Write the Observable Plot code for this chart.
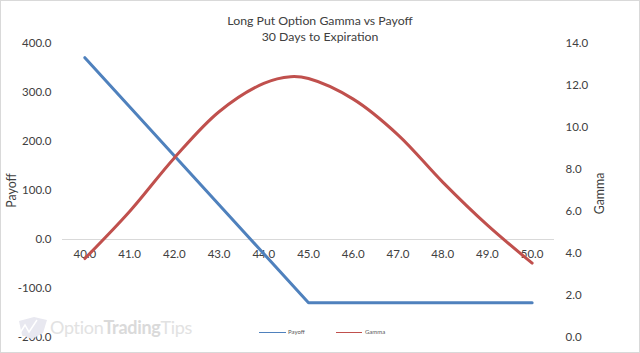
<!DOCTYPE html>
<html>
<head>
<meta charset="utf-8">
<script src="https://cdn.jsdelivr.net/npm/d3@7"></script>
<script src="https://cdn.jsdelivr.net/npm/@observablehq/plot@0.6"></script>
<style>
html,body{margin:0;padding:0;background:#fff}
#chart{position:relative;width:640px;height:353px;overflow:hidden;font-family:Lato,sans-serif;color:#404040}
#chart svg.plot{position:absolute;left:0;top:0}
#frame{position:absolute;left:0;top:0;width:638px;height:351px;border:1px solid #d9d9d9}
#title{position:absolute;left:0;width:640px;top:13px;text-align:center;font-size:12.3px;line-height:15.5px;color:#404040}
.lg{position:absolute;top:329px;font-size:6px;line-height:6px;color:#595959}
.sw{position:absolute;top:331.5px;height:1.5px}
#wm{position:absolute;left:50px;top:313px;font-family:Lato,sans-serif;font-size:18px;line-height:28px;letter-spacing:-.3px;color:#e2e2e2;white-space:nowrap}
#wm b{font-weight:700;color:#dadada}
#logo{position:absolute;left:18px;top:316px}
</style>
</head>
<body>
<div id="chart">
  <svg id="logo" width="30" height="24" viewBox="0 0 30 24"><path d="M1 5 L16 1 L29 4 L25 17 L14 23 L4 19 Z" fill="#e8e8f0"/><path d="M2 17 L7 9 L11 16 L19 4" fill="none" stroke="#fff" stroke-width="1.5"/></svg>
  <div id="wm">Option<b>Trading</b>Tips</div>
  <div id="title">Long Put Option Gamma vs Payoff<br>30 Days to Expiration</div>
  <div class="sw" style="left:259px;width:27px;background:#4F81BD"></div>
  <div class="lg" style="left:288px">Payoff</div>
  <div class="sw" style="left:336px;width:26px;background:#C0504D"></div>
  <div class="lg" style="left:365px">Gamma</div>
  <div id="frame"></div>
</div>
<script>
const strikes = [40,41,42,43,44,45,46,47,48,49,50];
const payoffValues = [371,271,171,71,-29,-129,-129,-129,-129,-129,-129];
const gammaStrikes = [40,41,42,43,44,44.6,45,46,47,48,49,50];
const gammaValues = [3.76,6.0,8.55,10.75,12.1,12.42,12.33,11.35,9.65,7.4,5.35,3.54];
const payoffTicks = [-200,-100,0,100,200,300,400];
const gammaTicks = [0,2,4,6,8,10,12,14];

const toPayoff = d3.scaleLinear([0,14],[-200,400]);
const toGamma = toPayoff.invert;
const payoffRows = strikes.map((x,i)=>({x,y:payoffValues[i]}));
const gammaRows = gammaStrikes.map((x,i)=>({x,y:toPayoff(gammaValues[i])}));
const ink = "#404040";

const plot = Plot.plot({
  width:640, height:353,
  marginTop:43, marginBottom:16, marginLeft:62, marginRight:86,
  style:{background:"transparent",fontFamily:"Lato,sans-serif",fontSize:"11.5px",color:ink},
  x:{domain:[39.5,50.5],axis:null},
  y:{domain:[-200,400],axis:null},
  marks:[
    Plot.ruleY([0],{stroke:"#d9d9d9",strokeWidth:1}),
    Plot.axisY({anchor:"left",ticks:payoffTicks,tickSize:0,tickPadding:11,tickFormat:d=>d.toFixed(1),label:null,fontSize:11.5}),
    Plot.axisY({anchor:"right",ticks:gammaTicks.map(d=>toPayoff(d)),tickSize:0,tickPadding:11,tickFormat:d=>toGamma(d).toFixed(1),label:null,fontSize:11.5}),
    Plot.text(strikes,{x:d=>d,y:()=>0,text:d=>d.toFixed(1),dy:15,fill:ink,fontSize:11.5}),
    Plot.line(payoffRows,{x:"x",y:"y",stroke:"#4F81BD",strokeWidth:3,strokeLinejoin:"round"}),
    Plot.line(gammaRows,{x:"x",y:"y",stroke:"#C0504D",strokeWidth:3,curve:"catmull-rom"}),
    Plot.text(["Payoff"],{frameAnchor:"left",textAnchor:"middle",rotate:-90,dx:-50,dy:0,fill:ink,fontSize:12.4}),
    Plot.text(["Gamma"],{frameAnchor:"right",textAnchor:"middle",rotate:-90,dx:46,dy:3,fill:ink,fontSize:12.4})
  ]
});
document.getElementById("chart").insertBefore(plot, document.getElementById("title"));
</script>
</body>
</html>
